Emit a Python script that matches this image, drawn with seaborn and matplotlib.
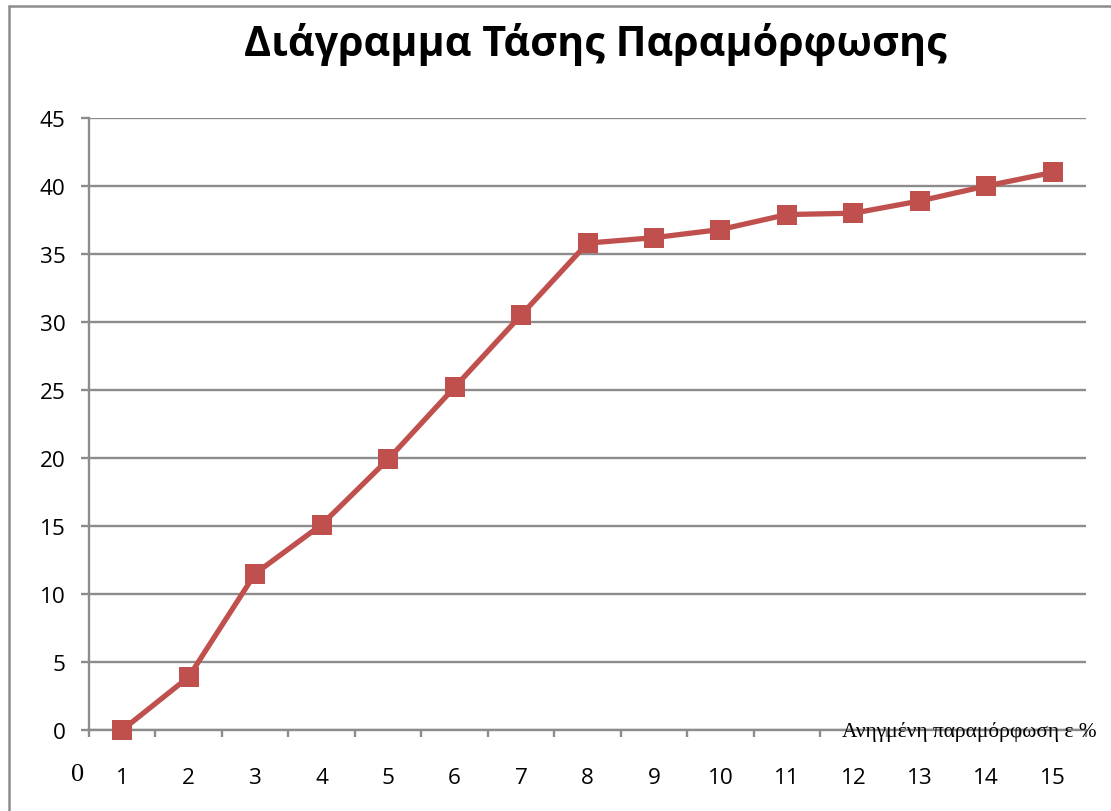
import matplotlib
matplotlib.use("Agg")
import matplotlib.pyplot as plt
from matplotlib.lines import Line2D
import seaborn as sns
import pandas as pd
import numpy as np

# Strain categories (%) and measured stress values
strain = [1, 2, 3, 4, 5, 6, 7, 8, 9, 10, 11, 12, 13, 14, 15]
stress = [0, 3.9, 11.5, 15.1, 19.9, 25.2, 30.5, 35.8, 36.2, 36.8, 37.9, 38.0, 38.9, 40.0, 41.0]
y_ticks = [0, 5, 10, 15, 20, 25, 30, 35, 40, 45]

title = "Διάγραμμα Τάσης Παραμόρφωσης"
x_label = "Ανηγμένη παραμόρφωση ε %"

sns.set_theme(style="white")
plt.rcParams["font.family"] = ["Open Sans", "DejaVu Sans"]

W, H = 1111, 812
fig = plt.figure(figsize=(W / 100, H / 100), dpi=100)
ax = fig.add_axes([89 / W, 1 - 731 / H, (1086 - 89) / W, (731 - 119) / H])

df = pd.DataFrame({"strain": strain, "stress": stress})
red = "#C0504D"
grid_c = "#8c8c8c"

sns.lineplot(data=df, x="strain", y="stress", ax=ax, color=red, linewidth=3.8,
             marker="s", markersize=14.5, markeredgewidth=0, zorder=3, clip_on=False)

ax.set_xlim(0.5, len(strain) + 0.5)
ax.set_ylim(0, 45)
ax.set_yticks(y_ticks)
ax.set_yticklabels([str(v) for v in y_ticks])
ax.set_xticks(strain)
ax.set_xticklabels([str(v) for v in strain])
ax.set_xticks(np.arange(0.5, len(strain) + 1, 1), minor=True)
ax.set_xlabel("")
ax.set_ylabel("")

ax.yaxis.grid(True, color=grid_c, linewidth=1.7)
ax.xaxis.grid(False)
ax.set_axisbelow(True)
for s in ["top", "right"]:
    ax.spines[s].set_visible(False)
for s in ["left", "bottom"]:
    ax.spines[s].set_color(grid_c)
    ax.spines[s].set_linewidth(1.7)

ax.tick_params(axis="y", which="major", left=True, length=6, width=1.7, color=grid_c,
               pad=11, labelsize=16.2, labelcolor="black")
ax.tick_params(axis="x", which="major", bottom=False, length=0, pad=27,
               labelsize=16.2, labelcolor="black")
ax.tick_params(axis="x", which="minor", bottom=True, length=5, width=1.7, color=grid_c)

fig.text(595 / W, 1 - 45 / H, title, ha="center", va="center",
         fontsize=29.7, fontweight="bold", color="black")
fig.text(1097 / W, 1 - 732 / H, x_label, ha="right", va="center",
         fontsize=15.4, family=["Liberation Serif", "DejaVu Serif"], color="black")
fig.text(78 / W, 1 - 775 / H, "0", ha="center", va="center",
         fontsize=19, family=["Liberation Serif", "DejaVu Serif"], color="black")

# Chart area frame
fig.add_artist(Line2D([9 / W, 9 / W], [0, 1 - 7 / H], transform=fig.transFigure,
                      color=grid_c, linewidth=1.8))
fig.add_artist(Line2D([9 / W, 1], [1 - 7 / H, 1 - 7 / H], transform=fig.transFigure,
                      color=grid_c, linewidth=1.8))

fig.savefig("out.png", dpi=100, facecolor="white")
